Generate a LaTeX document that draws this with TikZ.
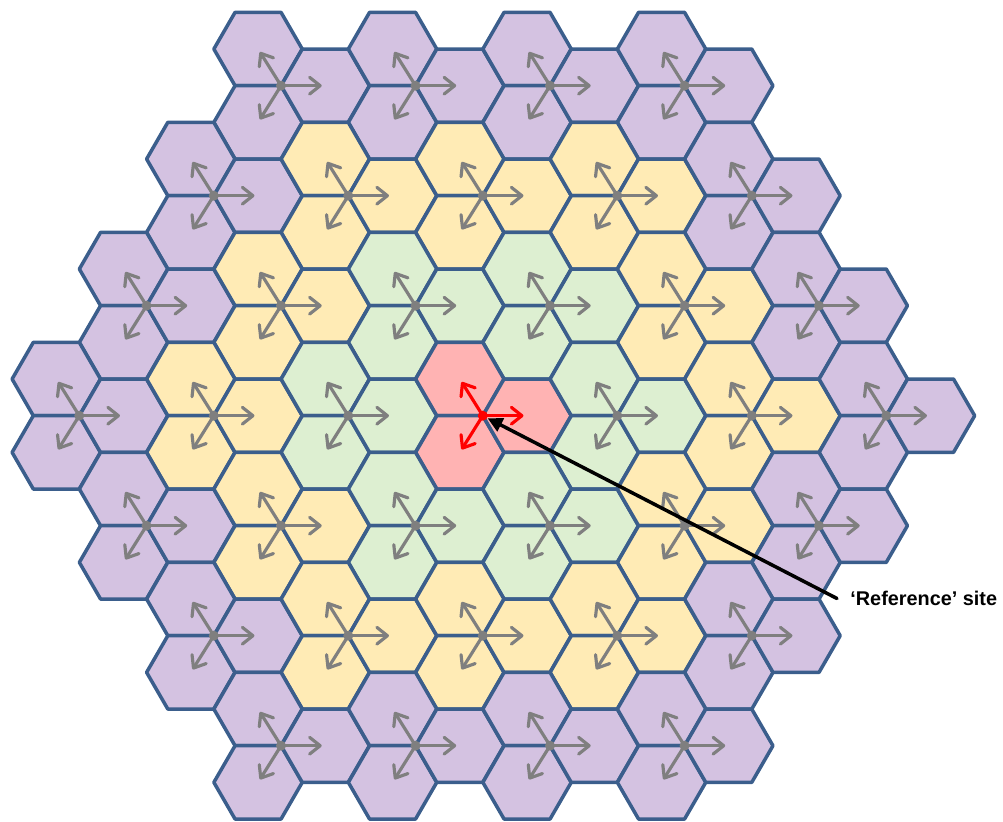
\documentclass[tikz,border=0pt]{standalone}
\usepackage{fontspec}
\setmainfont{Liberation Sans}
\usetikzlibrary{arrows.meta}

\definecolor{hexedge}{HTML}{3B5E8C}
\definecolor{ring0}{HTML}{FFB3B3}
\definecolor{ring1}{HTML}{DDEFD1}
\definecolor{ring2}{HTML}{FFEBB5}
\definecolor{ring3}{HTML}{D4C2E1}
\definecolor{hopgray}{HTML}{7F7F7F}
\definecolor{hopred}{HTML}{FF0000}

\begin{document}
\begin{tikzpicture}[x=0.02cm, y=-0.02cm, line join=round, line cap=round,
    cell/.style={draw=hexedge, line width=2pt},
    hop/.style={line width=1.8pt, -{Straight Barb[round, length=6pt, width=9.5pt]}, shorten >=2pt},
    pointer/.style={line width=2pt, -{Triangle[length=8.5pt, width=8pt]}, shorten >=3pt}]
  \useasboundingbox (0,0) rectangle (1003,821);

  % Trimers: rows of 4,5,6,7,6,5,4 sites
  \foreach \r/\n in {0/4,1/5,2/6,3/7,4/6,5/5,6/4} {
    \foreach \k in {1,...,\n} {
      \pgfmathsetmacro\sx{79.3+(7-\n)*67.25+(\k-1)*134.5}
      \pgfmathsetmacro\sy{85.7+110*\r}
      \pgfmathtruncatemacro\ring{max(abs(\r-3),(abs(2*\k-1-\n)+abs(\r-3))/2)}

      % Site and the three cell centres
      \coordinate (s\r\k) at (\sx,\sy);
      \coordinate (s\r\k-ul) at (\sx-23,\sy-36.67);
      \coordinate (s\r\k-ll) at (\sx-23,\sy+36.67);
      \coordinate (s\r\k-rt) at (\sx+44.2,\sy);

      % Hexagonal cells
      \foreach \c in {ul,ll,rt}
        \draw[cell, fill=ring\ring] (s\r\k-\c) ++(44.2,0) -- ++(-21.2,36.67) -- ++(-46,0)
          -- ++(-21.2,-36.67) -- ++(21.2,-36.67) -- ++(46,0) -- cycle;

      % Hops from the site
      \ifnum\ring=0 \colorlet{hopcol}{hopred}\else \colorlet{hopcol}{hopgray}\fi
      \draw[hop, hopcol] (s\r\k) -- (s\r\k-ul);
      \draw[hop, hopcol] (s\r\k) -- (s\r\k-ll);
      \draw[hop, hopcol] (s\r\k) -- (s\r\k-rt);
      \fill[hopcol] (s\r\k) circle[radius=0.1cm];
    }
  }

  % Label
  \node[anchor=west, inner xsep=7.4pt, inner ysep=0pt, font=\bfseries\fontsize{11.3}{13}\selectfont]
    (reflabel) at (837,598.5) {‘Reference’ site};
  \draw[pointer] (reflabel.west) -- (s34);
\end{tikzpicture}
\end{document}
